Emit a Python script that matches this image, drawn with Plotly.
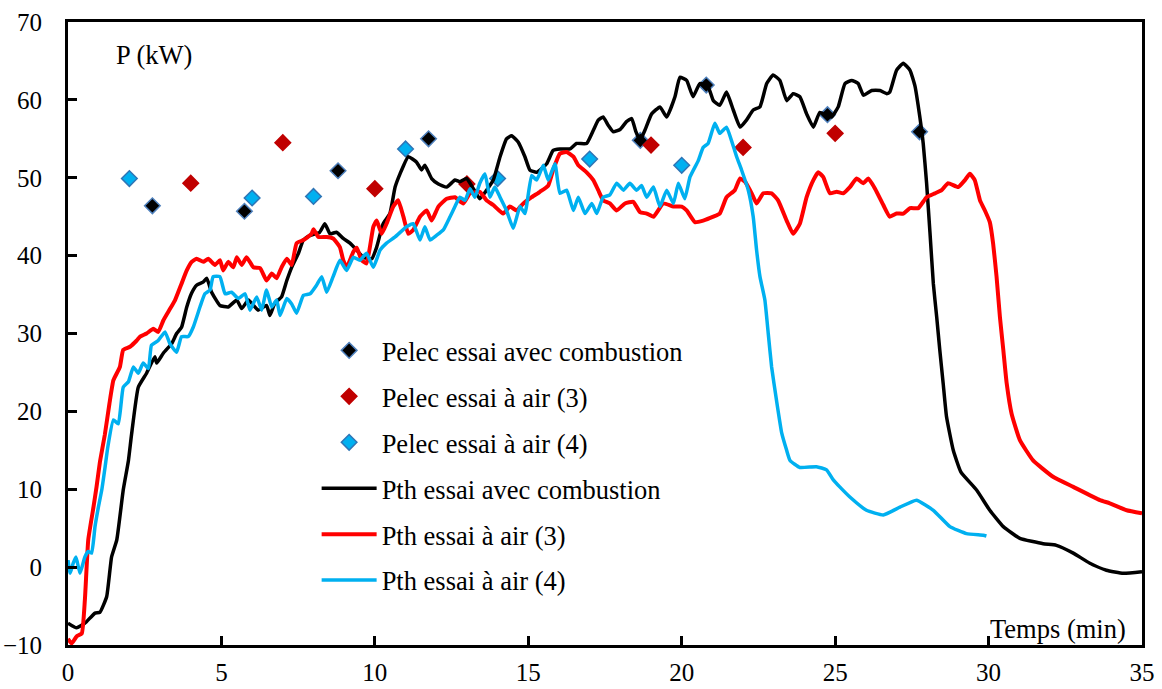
import plotly.graph_objects as go

# Puissance électrique mesurée (points)
pelec_comb_t = [2.75, 5.75, 8.8, 11.75, 18.65, 20.8, 24.75, 27.75]
pelec_comb_p = [46.4, 45.7, 50.9, 55.0, 54.8, 61.9, 58.1, 55.9]

pelec_air3_t = [4, 7, 10, 13, 19, 22, 25]
pelec_air3_p = [49.3, 54.5, 48.6, 49.2, 54.2, 53.9, 55.7]

pelec_air4_t = [2, 6, 8, 11, 14, 17, 20]
pelec_air4_p = [49.9, 47.4, 47.6, 53.7, 49.9, 52.4, 51.6]

# Puissance thermique (courbes)
pth_comb_t = [0.0, 0.28, 0.55, 0.88, 1.04, 1.26, 1.42, 1.59, 1.80, 1.97, 2.07, 2.29, 2.56, 2.83, 2.89,
              3.11, 3.38, 3.54, 3.70, 3.87, 4.03, 4.19, 4.40, 4.52, 4.68, 4.95, 5.22, 5.50, 5.66, 5.88,
              6.20, 6.47, 6.58, 6.74, 6.96, 7.13, 7.29, 7.51, 7.67, 7.89, 8.2, 8.37, 8.54, 8.75, 8.97,
              9.19, 9.41, 9.62, 9.90, 10.06, 10.27, 10.49, 10.66, 10.82, 11.09, 11.36, 11.52, 11.63,
              11.85, 12.07, 12.34, 12.61, 12.77, 12.99, 13.21, 13.42, 13.64, 13.86, 14.08, 14.29, 14.46,
              14.67, 14.89, 15.05, 15.27, 15.60, 15.81, 16.03, 16.36, 16.57, 16.90, 17.12, 17.28, 17.44,
              17.61, 17.77, 17.99, 18.20, 18.37, 18.50, 18.64, 18.80, 19.02, 19.29, 19.51, 19.78, 19.94,
              20.16, 20.37, 20.59, 20.86, 21.03, 21.24, 21.46, 21.68, 21.90, 22.11, 22.33, 22.55, 22.77,
              22.98, 23.20, 23.42, 23.63, 23.85, 24.07, 24.29, 24.50, 24.72, 24.88, 25.10, 25.32, 25.54,
              25.75, 25.92, 26.19, 26.46, 26.68, 26.78, 27.00, 27.22, 27.44, 27.60, 27.76, 27.87, 27.98,
              28.09, 28.2, 28.31, 28.41, 28.52, 28.63, 28.85, 29.1, 29.61, 30.04, 30.48, 31.02, 31.78,
              32.21, 32.76, 33.30, 33.84, 34.39, 35.0]
pth_comb_p = [-7.2, -7.8, -7.2, -5.9, -5.8, -3.8, 1.3, 3.5, 9.9, 13.7, 17.0, 23.1, 24.9, 27.0, 26.2,
              27.5, 28.7, 30.0, 30.8, 33.4, 35.2, 36.2, 36.6, 37.1, 35.3, 33.6, 33.4, 34.3, 33.2, 34.3,
              33.0, 33.6, 32.3, 33.9, 34.7, 36.8, 38.5, 40.3, 42.0, 42.6, 43.0, 44.1, 42.8, 43.0, 42.2,
              41.6, 40.7, 39.8, 39.6, 41.1, 44.1, 45.4, 48.8, 50.5, 52.7, 52.0, 51.0, 51.6,
              49.9, 49.2, 48.8, 49.7, 49.5, 49.9, 48.6, 47.3, 48.4, 49.7, 52.7, 55.0, 55.4,
              54.6, 52.7, 51.0, 50.7, 51.8, 53.5, 53.7, 53.7, 54.4, 54.4, 56.1, 57.4, 57.8,
              56.7, 55.9, 56.2, 57.2, 57.6, 56.0, 54.8, 56.1, 58.2, 59.1, 57.8, 60.4, 62.9,
              62.5, 60.4, 62.1, 61.7, 59.9, 59.3, 61.0, 58.7, 56.5, 57.4, 58.7, 59.1, 62.1,
              63.2, 62.5, 59.9, 60.8, 60.4, 58.2, 56.5, 58.4, 58.0, 57.8, 59.1, 62.1, 62.5,
              62.1, 60.6, 61.2, 61.2, 60.8, 61.0, 63.8, 64.7, 63.8, 61.8, 57.8, 54.4, 49.3,
              43.0, 36.4, 32.1, 27.9, 23.6, 19.3, 15.0, 12.2, 9.9, 7.3, 5.2, 3.7, 3.0,
              2.8, 1.8, 0.5, -0.4, -0.8, -0.6]

pth_air3_t = [0.0, 0.12, 0.28, 0.45, 0.55, 0.66, 0.83, 0.93, 1.04, 1.2, 1.35, 1.48, 1.69, 1.80, 2.02,
              2.24, 2.35, 2.56, 2.78, 2.94, 3.11, 3.27, 3.49, 3.70, 3.87, 4.03, 4.19, 4.41, 4.57, 4.79,
              4.95, 5.06, 5.22, 5.39, 5.50, 5.66, 5.82, 6.04, 6.26, 6.47, 6.64, 6.80, 6.96, 7.13, 7.29,
              7.45, 7.67, 7.94, 8.0, 8.16, 8.43, 8.64, 8.86, 8.97, 9.08, 9.30, 9.41, 9.57, 9.73, 9.95,
              10.06, 10.22, 10.38, 10.60, 10.76, 10.93, 11.09, 11.25, 11.47, 11.69, 11.85, 12.07, 12.34,
              12.61, 12.88, 13.10, 13.42, 13.64, 13.86, 14.18, 14.40, 14.62, 14.84, 15.11, 15.38, 15.65,
              15.81, 16.03, 16.25, 16.47, 16.63, 16.90, 17.12, 17.28, 17.44, 17.66, 17.88, 18.15, 18.42,
              18.64, 18.86, 19.08, 19.40, 19.73, 20.0, 20.16, 20.43, 20.70, 21.03, 21.24, 21.46, 21.73,
              21.90, 22.06, 22.28, 22.44, 22.66, 22.93, 23.14, 23.42, 23.63, 23.85, 24.07, 24.29, 24.45,
              24.61, 24.83, 25.05, 25.26, 25.48, 25.70, 25.92, 26.08, 26.30, 26.57, 26.78, 27.0, 27.22,
              27.44, 27.71, 27.98, 28.25, 28.47, 28.68, 29.01, 29.23, 29.39, 29.55, 29.72, 29.88, 30.04,
              30.15, 30.26, 30.37, 30.48, 30.59, 30.75, 31.02, 31.45, 32.10, 32.76, 33.63, 33.95, 34.50, 35.0]
pth_air3_p = [-9.2, -9.8, -8.9, -8.5, -4.2, 3.5, 7.7, 10.3, 13.5, 17.0, 21.0, 24.0, 25.7, 27.9, 28.3,
              29.1, 29.6, 30.0, 30.6, 30.2, 31.7, 32.8, 34.3, 36.4, 38.1, 39.2, 39.6, 39.2, 39.6, 38.8,
              39.4, 38.1, 39.2, 38.5, 39.8, 38.8, 39.8, 38.5, 38.4, 36.8, 37.7, 37.1, 38.5, 39.6, 38.8,
              41.6, 42.0, 42.8, 43.4, 42.4, 42.4, 42.2, 41.1, 39.4, 38.5, 40.5, 41.0, 39.4, 39.0, 43.7,
              44.5, 42.8, 44.1, 46.3, 47.1, 45.0, 42.8, 43.3, 45.0, 45.8, 44.5, 46.3, 47.3,
              47.5, 46.7, 48.0, 48.2, 47.1, 46.5, 45.4, 46.3, 45.8, 46.7, 47.5, 48.2, 49.0,
              51.0, 53.1, 53.3, 52.7, 51.6, 50.7, 49.7, 48.4, 47.1, 46.7, 45.8, 46.7, 46.9,
              45.6, 45.4, 45.0, 46.7, 46.3, 46.3, 45.8, 44.3, 44.5, 45.0, 45.4, 47.5, 48.4,
              49.9, 49.5, 48.0, 46.7, 48.0, 48.0, 47.1, 44.5, 42.8, 44.1, 47.5, 49.7, 50.7,
              50.1, 48.0, 48.2, 48.0, 48.8, 49.9, 49.3, 49.9, 48.6, 46.5, 45.0, 45.4, 45.4,
              46.1, 46.1, 47.5, 48.0, 48.4, 49.3, 48.8, 49.7, 50.5, 49.7, 47.1, 45.8, 44.3,
              41.5, 37.3, 32.1, 27.9, 23.6, 19.7, 16.3, 13.7, 11.6, 10.3, 8.6, 8.2, 7.3, 6.9]

pth_air4_t = [0.0, 0.07, 0.17, 0.26, 0.39, 0.55, 0.66, 0.77, 0.88, 0.99, 1.10, 1.21, 1.3, 1.48, 1.64,
              1.80, 1.97, 2.13, 2.29, 2.45, 2.62, 2.72, 2.94, 3.16, 3.32, 3.54, 3.70, 3.92, 4.08, 4.30,
              4.46, 4.63, 4.73, 4.95, 5.12, 5.33, 5.55, 5.77, 5.93, 6.15, 6.31, 6.47, 6.64, 6.80, 6.91,
              7.13, 7.29, 7.45, 7.67, 7.89, 8.10, 8.27, 8.43, 8.64, 8.86, 9.08, 9.30, 9.51, 9.73, 9.95,
              10.17, 10.38, 10.66, 11.03, 11.25, 11.47, 11.63, 11.80, 12.01, 12.23, 12.45, 12.61, 12.77,
              12.94, 13.10, 13.26, 13.42, 13.59, 13.75, 13.91, 14.08, 14.29, 14.51, 14.73, 14.89, 15.11,
              15.27, 15.49, 15.65, 15.87, 16.03, 16.25, 16.47, 16.63, 16.85, 17.07, 17.23, 17.44, 17.66,
              17.88, 18.10, 18.31, 18.53, 18.69, 18.86, 19.08, 19.29, 19.51, 19.73, 19.89, 20.10, 20.27,
              20.54, 20.70, 20.86, 21.08, 21.24, 21.46, 21.62, 21.79, 21.95, 22.17, 22.33, 22.44, 22.55,
              22.71, 22.82, 22.93, 23.09, 23.26, 23.42, 23.53, 23.85, 24.39, 24.72, 24.94, 25.15, 25.48,
              26.02, 26.57, 27.11, 27.65, 28.20, 28.74, 29.28, 29.83, 29.93]
pth_air4_p = [0.9, -0.8, 0.5, 1.3, -0.8, 1.3, 2.0, 1.8, 5.2, 7.7, 9.9, 12.9, 15.5, 18.9, 18.4,
              23.1, 23.8, 25.7, 24.9, 26.2, 25.5, 28.5, 29.1, 30.2, 28.7, 27.6, 29.6, 29.6, 30.8, 33.4,
              35.1, 35.6, 37.3, 37.3, 35.1, 35.3, 34.5, 35.1, 33.0, 34.7, 33.0, 35.6, 33.4, 34.3, 32.3,
              34.5, 33.8, 32.6, 34.9, 35.1, 36.2, 37.3, 35.3, 37.3, 39.4, 38.1, 39.8, 39.4, 40.3, 38.5,
              40.7, 41.6, 42.4, 43.7, 44.1, 42.0, 43.7, 42.0, 42.6, 43.3, 45.0, 46.3, 47.5,
              47.1, 48.6, 47.5, 49.3, 50.5, 47.5, 48.8, 47.5, 45.8, 43.5, 46.3, 45.4, 50.3,
              49.7, 51.6, 49.7, 51.8, 48.0, 48.4, 45.8, 47.5, 45.4, 46.7, 45.4, 47.5, 47.8,
              49.3, 48.4, 49.3, 48.4, 49.0, 47.5, 48.8, 46.3, 48.4, 46.7, 49.3, 47.3, 50.1,
              52.2, 53.9, 54.4, 57.0, 55.7, 56.5, 54.8, 52.7, 51.0, 48.4, 45.0, 40.7, 37.3,
              34.3, 30.0, 25.7, 21.4, 17.2, 15.0, 13.7, 12.8, 12.9, 12.5, 11.2, 10.3, 9.0,
              7.3, 6.7, 7.7, 8.6, 7.3, 5.2, 4.3, 4.1, 4.0]

FONT = "Liberation Serif"
TEXT_SIZE = 26.5
TICK_SIZE = 25

fig = go.Figure()

marker_series = [
    ("Pelec essai avec combustion", pelec_comb_t, pelec_comb_p, "#000000", "#4F81BD"),
    ("Pelec essai à air (3)", pelec_air3_t, pelec_air3_p, "#C00000", "#C00000"),
    ("Pelec essai à air (4)", pelec_air4_t, pelec_air4_p, "#00B0F0", "#2E75B6"),
]
for i, (name, t, p, fill, edge) in enumerate(marker_series):
    fig.add_trace(go.Scatter(
        x=t, y=p, mode="markers", name=name, legendgroup=f"g{i}",
        marker=dict(symbol="diamond", size=12, color=fill, line=dict(color=edge, width=1.5)),
    ))

line_series = [
    ("Pth essai avec combustion", pth_comb_t, pth_comb_p, "#000000", 3.5),
    ("Pth essai à air (3)", pth_air3_t, pth_air3_p, "#FF0000", 4),
    ("Pth essai à air (4)", pth_air4_t, pth_air4_p, "#00B0F0", 3.5),
]
for i, (name, t, p, color, w) in enumerate(line_series):
    fig.add_trace(go.Scatter(
        x=t, y=p, mode="lines", name=name, legendgroup=f"l{i}",
        line=dict(color=color, width=w, shape="spline", smoothing=0.4),
    ))

axis_common = dict(
    showline=True, linecolor="black", linewidth=3, mirror=True,
    ticks="inside", ticklen=9, tickwidth=2.5, tickcolor="black",
    showgrid=False, zeroline=False, automargin=False,
    tickfont=dict(family=FONT, size=TICK_SIZE, color="black"),
)

fig.update_layout(
    width=1162, height=689,
    margin=dict(l=68, r=20, t=22, b=44),
    paper_bgcolor="white", plot_bgcolor="white",
    font=dict(family=FONT, size=TEXT_SIZE, color="black"),
    xaxis=dict(range=[0, 35], dtick=5, tick0=0, ticklabelstandoff=3, **axis_common),
    yaxis=dict(range=[-10, 70], dtick=10, tick0=-10, ticklabelstandoff=18, **axis_common),
    legend=dict(
        x=0.2315, y=0.511, xanchor="left", yanchor="top",
        bgcolor="rgba(0,0,0,0)", borderwidth=0,
        font=dict(family=FONT, size=TEXT_SIZE, color="black"),
        traceorder="grouped", tracegroupgap=8.5, itemwidth=55,
    ),
    annotations=[
        dict(x=1.5, y=65.7, xref="x", yref="y", text="P (kW)", showarrow=False,
             xanchor="left", yanchor="middle", font=dict(family=FONT, size=TEXT_SIZE, color="black")),
        dict(x=34.55, y=-8.0, xref="x", yref="y", text="Temps (min)", showarrow=False,
             xanchor="right", yanchor="middle", font=dict(family=FONT, size=TEXT_SIZE, color="black")),
    ],
)

fig.write_html("out.html")
